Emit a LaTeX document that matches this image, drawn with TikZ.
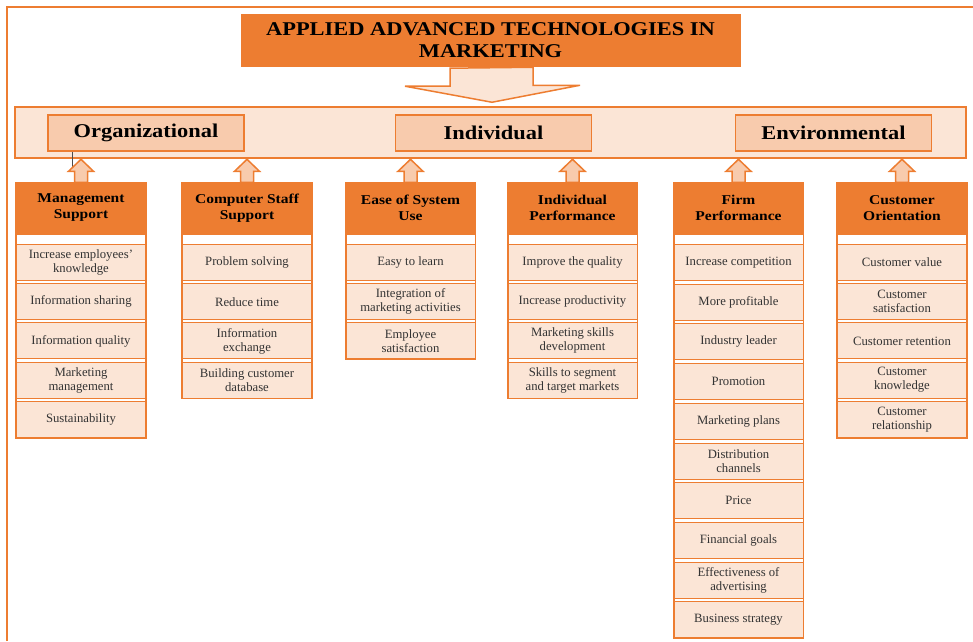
\documentclass[tikz,border=0pt]{standalone}
\usepackage{fontspec}
\setmainfont{Liberation Serif}
\newfontfamily\widebf[FakeStretch=1.15]{Liberation Serif Bold}
\usetikzlibrary{calc}
\definecolor{mkorange}{HTML}{ED7D31}
\definecolor{mkpeach}{HTML}{FBE5D6}
\definecolor{mklight}{HTML}{F8CBAD}
\definecolor{mktext}{HTML}{333333}
\tikzset{
  frame/.style={draw=mkorange, line width=2pt},
  titlebox/.style={fill=mkorange, draw=mkorange, minimum width=499, minimum height=52,
    align=center, font=\widebf\fontsize{19.5}{22}\selectfont},
  band/.style={fill=mkpeach, draw=mkorange, line width=1.5pt, minimum width=951, minimum height=51},
  groupbox/.style={fill=mklight, draw=mkorange, line width=1.5pt, minimum width=196, minimum height=36,
    font=\widebf\fontsize{19.5}{22}\selectfont},
  headbox/.style={fill=mkorange, draw=mkorange, minimum width=129, minimum height=51},
  headtext/.style={align=center, inner sep=0pt, font=\widebf\fontsize{13.5}{16}\selectfont},
  itembox/.style={fill=mkpeach, draw=mkorange, line width=0.9pt, minimum width=129, minimum height=36,
    align=center, inner sep=1pt, text=mktext, font=\fontsize{12.7}{14}\selectfont},
  colframe/.style={draw=mkorange, line width=1.8pt},
  downarrow/.style={fill=mkpeach, draw=mkorange, line width=1.5pt, line join=miter},
  uparrow/.style={fill=mklight, draw=mkorange, line width=1.5pt, line join=miter}
}
\begin{document}
\begin{tikzpicture}[x=1pt, y=-1pt]
  \useasboundingbox (0,0) rectangle (973,641);
  \draw[frame] (7,641) -- (7,7) -- (973,7);

  \node[titlebox] (title) at (490.5,40) {APPLIED ADVANCED TECHNOLOGIES IN\\MARKETING};
  \node[band] (band) at (490.5,132.5) {};
  \foreach \n/\x/\t in {org/146/Organizational, ind/493.5/Individual, env/833.5/Environmental}
    \node[groupbox] (\n) at (\x,133) {\t};
  \draw[gray!60!black, line width=0.6pt] ($(org.south west)+(25,0)$) -- ++(0,15);

  % big arrow from the title down to the band
  \draw[downarrow] ($(title.south)+(-40.5,2)$) -- ++(0,18) -- ++(-45,0)
    -- ($(band.north)+(1.5,-4)$) -- ++(88,-17) -- ++(-47,0) -- ++(0,-18) -- cycle;

  % columns
  \foreach \n/\x/\p/\k/\hd/\items in {
    mgmt/81/39.2/5/{Management\\Support}/{Increase employees’\\knowledge,Information sharing,Information quality,Marketing\\management,Sustainability},
    staff/247/39.2/4/{Computer Staff\\Support}/{Problem solving,Reduce time,Information\\exchange,Building customer\\database},
    ease/410.5/39.2/3/{Ease of System\\Use}/{Easy to learn,Integration of\\marketing activities,Employee\\satisfaction},
    indperf/572.5/39.2/4/{Individual\\Performance}/{Improve the quality,Increase productivity,Marketing skills\\development,Skills to segment\\and target markets},
    firm/738.5/39.7/10/{Firm\\Performance}/{Increase competition,More profitable,Industry leader,Promotion,Marketing plans,Distribution\\channels,Price,Financial goals,Effectiveness of\\advertising,Business strategy},
    cust/902/39.2/5/{Customer\\Orientation}/{Customer value,Customer\\satisfaction,Customer retention,Customer\\knowledge,Customer\\relationship}} {
    \node[headbox] (\n) at (\x,208.5) {};
    \node[headtext] (\n-t) at ($(\n)+(0,-0.5)$) {\hd};
    \foreach \t [count=\i] in \items
      \node[itembox] (\n-\i) at ({\x},{262.5+(\i-1)*\p}) {\t};
    \draw[colframe] (\n.north west) rectangle (\n-\k.south east);
    \draw[uparrow] (\n.north) ++(-6.5,-0.5) -- ++(0,-11) -- ++(-6,0) -- ++(12.5,-12)
      -- ++(12.5,12) -- ++(-6,0) -- ++(0,11) -- cycle;
  }
\end{tikzpicture}
\end{document}
